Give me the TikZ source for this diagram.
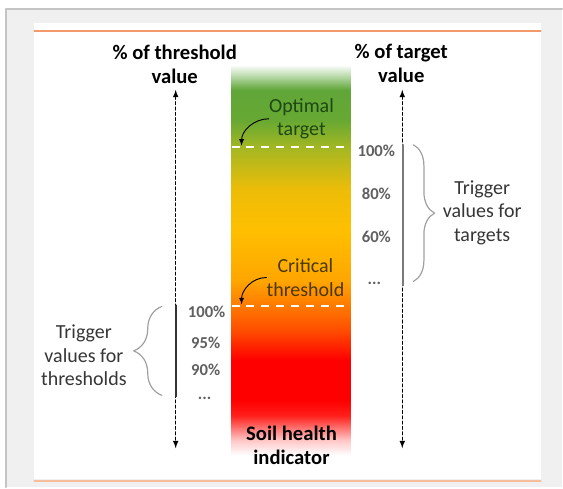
\documentclass[tikz,border=0pt]{standalone}
\usepackage{fontspec}
\setmainfont{Carlito}
\usetikzlibrary{arrows,decorations.pathreplacing}

\definecolor{framegray}{HTML}{F0F0F0}
\definecolor{edgegray}{HTML}{C4C4C4}
\definecolor{ruleorange}{HTML}{F39A6C}
\definecolor{rulepale}{HTML}{F6BE9C}
\definecolor{optgreen}{HTML}{1D4813}
\definecolor{critbrown}{HTML}{4A3900}
\definecolor{pctgray}{HTML}{606060}
\definecolor{notegray}{HTML}{363636}
\definecolor{bracegray}{HTML}{A0A0A0}
\definecolor{linegray}{HTML}{7A7A7A}
\definecolor{linedark}{HTML}{333333}

\pgfdeclareverticalshading{soilbar}{100bp}{
  rgb(0bp)=(1,1,1); rgb(25bp)=(1,1,1);
  rgb(26.9bp)=(1,0.78,0.78); rgb(30.1bp)=(1,0.12,0.1);
  rgb(32bp)=(1,0,0); rgb(37.2bp)=(1,0,0);
  rgb(41bp)=(1,0.3,0); rgb(44bp)=(1,0.47,0);
  rgb(47.4bp)=(1,0.65,0); rgb(53.8bp)=(1,0.75,0);
  rgb(59bp)=(0.93,0.74,0.03); rgb(64.1bp)=(0.66,0.72,0.13);
  rgb(68bp)=(0.40,0.66,0.20); rgb(71.8bp)=(0.38,0.65,0.22);
  rgb(73.7bp)=(0.75,0.87,0.70); rgb(75bp)=(1,1,1);
  rgb(100bp)=(1,1,1)}

\begin{document}
\begin{tikzpicture}[line cap=round,line join=round,x=0.75pt,y=-0.75pt,
    note/.style={inner sep=0pt, align=center, font=\fontsize{15}{17.5}\selectfont},
    heading/.style={inner sep=0pt, align=center, font=\bfseries\fontsize{15.5}{18}\selectfont},
    pct/.style={inner sep=0pt, text=pctgray, font=\bfseries\fontsize{12.5}{14}\selectfont},
    axisarrow/.style={latex-latex, line width=0.9pt, dash pattern=on 2.2pt off 1.8pt},
    cutline/.style={white, line width=1.5pt, dash pattern=on 6pt off 5.2pt, line cap=butt},
    pointer/.style={-latex, line width=0.7pt},
    bracket/.style={bracegray, line width=0.9pt, decorate, decoration={brace, amplitude=#1}}]

    % Frame and panel
    \fill[white] (0,0) rectangle (563,488);
    \fill[framegray] (6,9) rectangle (563,488);
    \draw[edgegray, line width=1.5pt] (6,488) -- (6,9) -- (563,9);
    \fill[white] (34.5,22.7) rectangle (541.7,480);
    \draw[ruleorange, line width=1.5pt] (34.5,31.5) -- (541.7,31.5);
    \draw[rulepale, line width=1.5pt] (34.5,481.5) -- (541.7,481.5);

    % Indicator bar
    \shade[shading=soilbar] (232,65) rectangle (351,456);

    \coordinate (optL) at (232,147);
    \coordinate (optR) at (351,147);
    \coordinate (critL) at (232,307);
    \coordinate (critR) at (351,307);
    \draw[cutline] (optL) -- (optR);
    \draw[cutline] (critL) -- (critR);

    \node[note, text=optgreen] (optimal) at (302,119) {Optimal\\target};
    \node[note, text=critbrown] (critical) at (306,278) {Critical\\threshold};
    \node[heading] (soil) at (292,446) {Soil health\\indicator};

    \coordinate (optimaltip) at (242,146);
    \coordinate (criticaltip) at (242,305);
    \draw[pointer] (optimal.west) to[out=180,in=90] (optimaltip);
    \draw[pointer] (critical.west) to[out=180,in=90] (criticaltip);

    % Axes
    \node[heading] (thrhead) at (175,64) {\% of threshold\\value};
    \node[heading] (tgthead) at (402,64) {\% of target\\value};

    \coordinate (thrtop) at (176,90);
    \coordinate (thrbot) at (176,449);
    \coordinate (tgttop) at (403,90);
    \coordinate (tgtbot) at (403,449);
    \draw[axisarrow] (thrtop) -- (thrbot);
    \draw[axisarrow] (tgttop) -- (tgtbot);

    % Target triggers
    \node[pct] (t100) at (377,151) {100\%};
    \node[pct] (t80) at (377,194) {80\%};
    \node[pct] (t60) at (377,237) {60\%};
    \node[pct] (tdots) at (375,284) {...};

    \coordinate (tgtA) at (404,145);
    \coordinate (tgtB) at (404,286);
    \draw[linegray, line width=1.5pt] (tgtA) -- (tgtB);

    \coordinate (tbrA) at (414,145);
    \coordinate (tbrB) at (414,282);
    \draw[bracket=16pt] (tbrA) -- (tbrB);
    \node[note, text=notegray] (tgtnote) at (483,213) {Trigger\\values for\\targets};

    % Threshold triggers
    \node[pct] (h100) at (207,312) {100\%};
    \node[pct] (h95) at (206,343) {95\%};
    \node[pct] (h90) at (206,370) {90\%};
    \node[pct] (hdots) at (205,399) {...};

    \coordinate (thrA) at (176,306);
    \coordinate (thrB) at (176,397);
    \draw[linedark, line width=1.5pt] (thrA) -- (thrB);

    \coordinate (hbrA) at (162,396);
    \coordinate (hbrB) at (162,307);
    \draw[bracket=21pt] (hbrA) -- (hbrB);
    \node[note, text=notegray] (thrnote) at (84,356) {Trigger\\values for\\thresholds};
\end{tikzpicture}
\end{document}
